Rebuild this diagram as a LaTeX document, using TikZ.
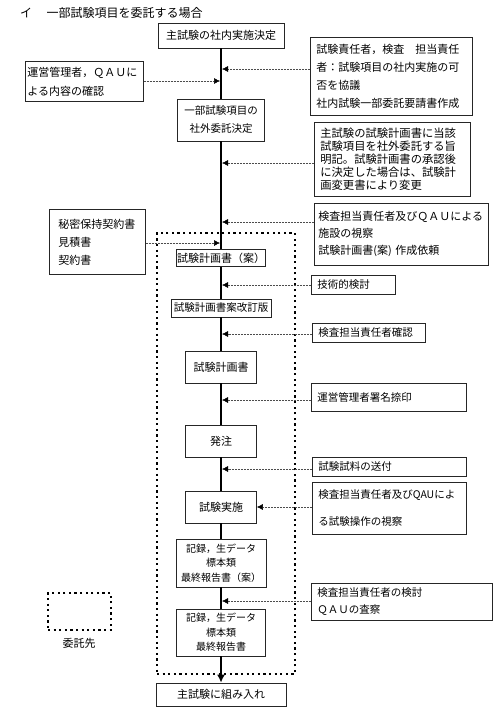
\documentclass[tikz,border=0pt]{standalone}
\usepackage{fontspec}
\newfontfamily\jpfont{Noto Sans CJK JP}
\usetikzlibrary{arrows.meta}
\newcommand{\fs}[2]{\jpfont\fontsize{#1}{#2}\selectfont}
\tikzset{
	box/.style={draw=black!85, line width=0.7pt, fill=white, align=center, inner sep=0pt, font=\fs{11}{18}},
	note/.style={draw=black!85, line width=0.7pt, fill=white, align=left, anchor=north west, inner xsep=6pt, inner ysep=1pt, font=\fs{10.5}{18}},
	spine/.style={line width=1.6pt},
	side/.style={-{Latex[length=6pt,width=6pt,color=black]}, dash pattern=on 2pt off 1pt, line width=0.5pt, black!70},
	outsrc/.style={draw, line width=2.2pt, line cap=butt, dash pattern=on 2.2pt off 3.4pt}
}

\begin{document}
\begin{tikzpicture}[x=1pt, y=-1pt]
	\useasboundingbox (0,0) rectangle (501,713);
	\node[anchor=west, inner sep=0pt, font=\fs{12}{14}] (title) at (20,13) {イ\hspace{1.2em}一部試験項目を委託する場合};
	
	\node[outsrc, minimum width=138pt, minimum height=441pt] (frame) at (226,453.5) {};
	\node[outsrc, minimum width=63pt, minimum height=37pt] (legend) at (79.5,611.5) {};
	\node[font=\fs{11}{14}] (legendtext) at (79,643) {委託先};
	
	\node[box, minimum width=126pt, minimum height=25pt] (b1) at (221,35.5) {主試験の社内実施決定};
	\node[box, minimum width=87pt, minimum height=42pt, font=\fs{10.5}{18}] (b2) at (221,120) {一部試験項目の\\社外委託決定};
	\node[box, minimum width=89pt, minimum height=17pt] (b3) at (221,258) {試験計画書（案）};
	\node[box, minimum width=100pt, minimum height=18pt, font=\fs{10.5}{18}] (b4) at (221,308) {試験計画書案改訂版};
	\node[box, minimum width=71pt, minimum height=32pt] (b5) at (221,367) {試験計画書};
	\node[box, minimum width=71pt, minimum height=32pt] (b6) at (221,441) {発注};
	\node[box, minimum width=71pt, minimum height=32pt] (b7) at (221,507) {試験実施};
	\node[box, minimum width=90pt, minimum height=48pt, font=\fs{10}{14.5}] (b8) at (221,563) {記録，生データ\\標本類\\最終報告書（案）};
	\node[box, minimum width=89pt, minimum height=47pt, font=\fs{10}{14.5}] (b9) at (221,632.5) {記録，生データ\\標本類\\最終報告書};
	\node[box, minimum width=130pt, minimum height=23pt] (b10) at (221,694.5) {主試験に組み入れ};
	
	\node[note, inner xsep=2pt, text width=114pt, minimum height=40pt, font=\fs{11}{19}] (l1) at (25,61) {運営管理者，ＱＡＵに\\よる内容の確認};
	\node[note, inner xsep=9pt, text width=78pt, minimum height=65pt, font=\fs{11}{18}] (l2) at (49,209) {秘密保持契約書\\見積書\\契約書};
	
	\node[note, text width=150pt, minimum height=78pt, font=\fs{11}{18}] (n1) at (310,37) {試験責任者，検査　担当責任\\者：試験項目の社内実施の可\\否を協議\\社内試験一部委託要請書作成};
	\node[note, text width=144pt, minimum height=74pt, font=\fs{11.3}{13}] (n2) at (314,122) {主試験の試験計画書に当該\\試験項目を社外委託する旨\\明記。試験計画書の承認後\\に決定した場合は、試験計\\画変更書により変更};
	\node[note, inner xsep=4pt, text width=166pt, minimum height=62pt, font=\fs{11}{17}] (n3) at (314,203) {検査担当責任者及びＱＡＵによる\\施設の視察\\試験計画書(案) 作成依頼};
	\node[note, text width=72pt, minimum height=19pt] (n4) at (311,275) {技術的検討};
	\node[note, text width=101pt, minimum height=19pt] (n5) at (312,323) {検査担当責任者確認};
	\node[note, text width=143pt, minimum height=28pt] (n6) at (311,383) {運営管理者署名捺印};
	\node[note, text width=142pt, minimum height=19pt] (n7) at (312,457) {試験試料の送付};
	\node[note, text width=142pt, minimum height=52pt, font=\fs{10.5}{27}] (n8) at (312,482) {検査担当責任者及びQAUによ\\る試験操作の視察};
	\node[note, text width=169pt, minimum height=37pt, font=\fs{10.5}{17}] (n9) at (311,583) {検査担当責任者の検討\\ＱＡＵの査察};
	
	\coordinate (s1) at (222,69);
	\coordinate (s2) at (220,81);
	\coordinate (s3) at (222,163);
	\coordinate (s4) at (222,222);
	\coordinate (s5) at (220,243);
	\coordinate (s6) at (222,285);
	\coordinate (s7) at (222,334);
	\coordinate (s8) at (222,400);
	\coordinate (s9) at (222,469);
	\coordinate (s10) at (222,601);
	
	\draw[spine] (b1) -- (b2);
	\draw[spine] (b2) -- (b3);
	\draw[spine] (b3) -- (b4);
	\draw[spine] (b4) -- (b5);
	\draw[spine] (b5) -- (b6);
	\draw[spine] (b6) -- (b7);
	\draw[spine] (b7) -- (b8);
	\draw[spine] (b8) -- (b9);
	\draw[spine, -{Latex[length=8pt,width=8pt]}] (b9) -- (b10);
	
	\draw[side] (n1.west |- s1) -- (s1);
	\draw[side] (l1.east |- s2) -- (s2);
	\draw[side] (n2.west |- s3) -- (s3);
	\draw[side] (n3.west |- s4) -- (s4);
	\draw[side] (l2.east |- s5) -- (s5);
	\draw[side] (n4.west |- s6) -- (s6);
	\draw[side] (n5.west |- s7) -- (s7);
	\draw[side] (n6.west |- s8) -- (s8);
	\draw[side] (n7.west |- s9) -- (s9);
	\draw[side] (n8.west |- b7.east) -- (b7.east);
	\draw[side] (n9.west |- s10) -- (s10);
\end{tikzpicture}
\end{document}
